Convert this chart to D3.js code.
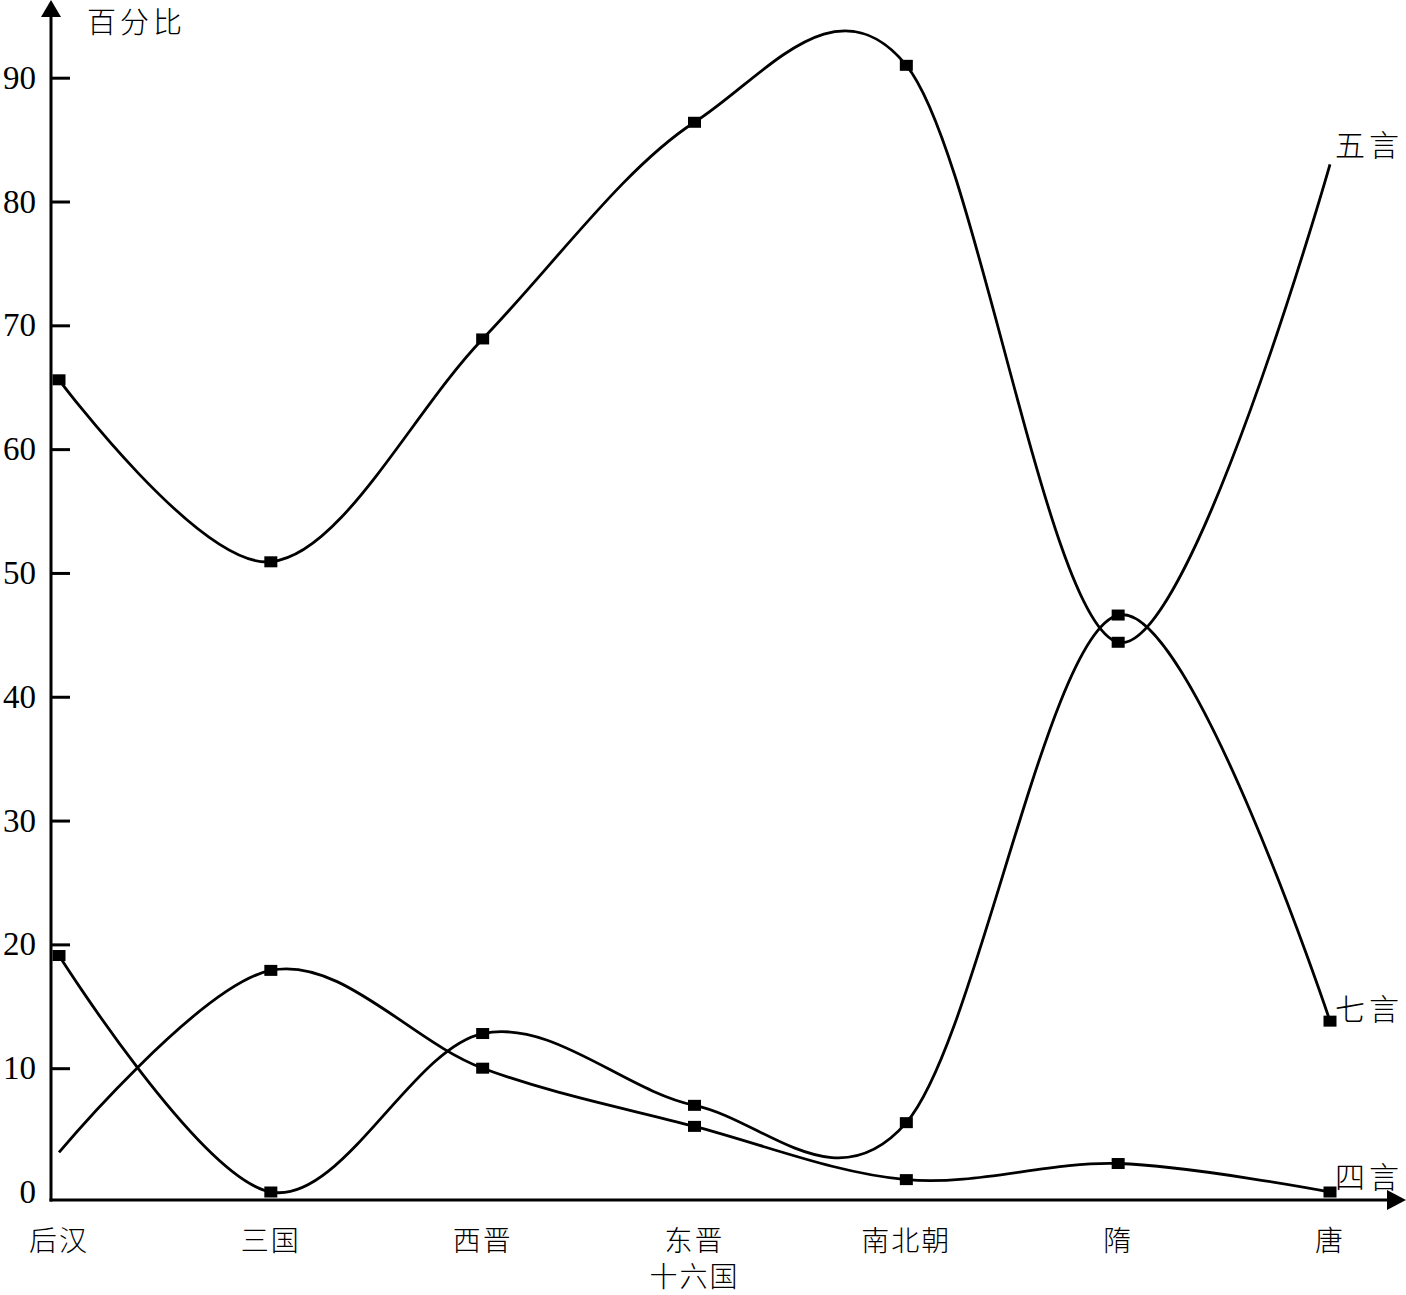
<!DOCTYPE html>
<html>
<head>
<meta charset="utf-8">
<script src="https://d3js.org/d3.v7.min.js"></script>
<style>
body { margin: 0; background: #fff; }
svg text { font-family: "Liberation Serif", "Noto Sans CJK SC", serif; fill: #000; }
.cjk { font-family: "Noto Sans CJK SC", sans-serif; font-weight: 300; }
</style>
</head>
<body>
<script>
// data
var periods = ['后汉', '三国', '西晋', '东晋', '南北朝', '隋', '唐'];
var periodLabels = [['后汉'], ['三国'], ['西晋'], ['东晋', '十六国'], ['南北朝'], ['隋'], ['唐']];
var wuyan = [65.6, 50.9, 68.9, 86.4, 91.0, 44.4, 83.0];
var qiyan = [19.1, 0, 12.8, 7.0, 5.6, 46.6, 13.8];
var siyan = [3.2, 17.9, 10.0, 5.3, 1.0, 2.3, 0];
var yTicks = [0, 10, 20, 30, 40, 50, 60, 70, 80, 90];
var seriesNames = ['五言', '七言', '四言'];
var yTitle = '百分比';

// points that are drawn without a square
var noMarker = { '五言': '唐', '四言': '后汉' };

var width = 1406,
    height = 1295;

var svg = d3.select('body').append('svg')
    .attr('width', width)
    .attr('height', height);

// scales
var x = d3.scalePoint()
    .domain(periods)
    .range([59, 1330]);

var y = d3.scaleLinear()
    .domain([0, 90])
    .range([1192, 77.7]);

var axisX = 51,
    axisY = y(0) + 8;

// y axis: ticks point inward, labels on the left
var yAxis = svg.append('g')
    .attr('transform', 'translate(' + axisX + ',0)')
    .call(d3.axisLeft(y)
        .tickValues(yTicks)
        .tickSizeInner(-19)
        .tickSizeOuter(0)
        .tickPadding(15)
        .tickFormat(d3.format('d')));

yAxis.select('.domain').remove();
yAxis.attr('font-family', null).attr('font-size', null);
yAxis.selectAll('.tick line')
    .attr('stroke', '#000')
    .attr('stroke-width', 3)
    .filter(function(d) { return d === 0; })
    .remove();
yAxis.selectAll('.tick text')
    .style('font-size', '33px');

// axis lines with arrows
svg.append('line')
    .attr('x1', axisX).attr('y1', axisY + 1.5)
    .attr('x2', axisX).attr('y2', 14)
    .attr('stroke', '#000')
    .attr('stroke-width', 3);

svg.append('path')
    .attr('d', 'M' + axisX + ',0 L' + (axisX - 10) + ',17 L' + (axisX + 10) + ',17 Z')
    .attr('fill', '#000');

svg.append('line')
    .attr('x1', axisX - 1.5).attr('y1', axisY)
    .attr('x2', width - 16).attr('y2', axisY)
    .attr('stroke', '#000')
    .attr('stroke-width', 3);

svg.append('path')
    .attr('d', 'M' + width + ',' + axisY + ' L' + (width - 19) + ',' + (axisY - 10) + ' L' + (width - 19) + ',' + (axisY + 10) + ' Z')
    .attr('fill', '#000');

// y title
svg.append('text')
    .attr('class', 'cjk')
    .attr('x', 87)
    .attr('y', 20)
    .attr('dominant-baseline', 'central')
    .style('font-size', '29px')
    .style('letter-spacing', '4px')
    .text(yTitle);

// x labels
var xl = svg.selectAll('.xlabel')
    .data(periods)
    .enter().append('text')
    .attr('class', 'xlabel cjk')
    .attr('text-anchor', 'middle')
    .style('font-size', '28px')
    .style('letter-spacing', '2px');

xl.selectAll('tspan')
    .data(function(d, i) { return periodLabels[i]; })
    .enter().append('tspan')
    .attr('x', function() { return x(d3.select(this.parentNode).datum()); })
    .attr('y', function(d, i) { return 1239 + i * 36; })
    .attr('dominant-baseline', 'central')
    .text(function(d) { return d; });

// lines
var series = [
    { name: seriesNames[0], values: wuyan },
    { name: seriesNames[1], values: qiyan },
    { name: seriesNames[2], values: siyan }
];

var line = d3.line()
    .x(function(d) { return x(d.period); })
    .y(function(d) { return y(d.value); })
    .curve(d3.curveCardinal);

series.forEach(function(s) {
    var pts = s.values.map(function(v, i) {
        return { period: periods[i], value: v };
    });

    svg.append('path')
        .datum(pts)
        .attr('d', line)
        .attr('fill', 'none')
        .attr('stroke', '#000')
        .attr('stroke-width', 2.8);

    svg.selectAll('.m' + s.name)
        .data(pts.filter(function(d) { return noMarker[s.name] !== d.period; }))
        .enter().append('rect')
        .attr('x', function(d) { return x(d.period) - 6.5; })
        .attr('y', function(d) { return y(d.value) - 5.5; })
        .attr('width', 13)
        .attr('height', 11)
        .attr('fill', '#000');

    // series name at the right end
    var last = pts[pts.length - 1];
    svg.append('text')
        .attr('class', 'cjk')
        .attr('x', x(last.period) + 5)
        .attr('y', y(last.value) - (s.name === '五言' ? 21 : (s.name === '七言' ? 14 : 17)))
        .attr('dominant-baseline', 'central')
        .style('font-size', '30px')
        .style('letter-spacing', '4px')
        .text(s.name);
});
</script>
</body>
</html>
